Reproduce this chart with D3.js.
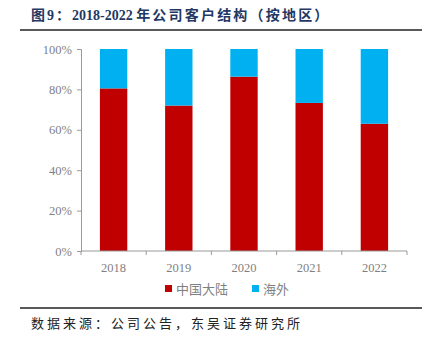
<!DOCTYPE html>
<html><head><meta charset="utf-8">
<script src="https://cdn.jsdelivr.net/npm/d3@7"></script>
<style>body{margin:0;background:#fff;} svg{display:block;}</style>
</head><body>
<script>
const years = ["2018","2019","2020","2021","2022"];
const mainland = [0.805, 0.72, 0.863, 0.733, 0.63];
const overseas = [0.195, 0.28, 0.137, 0.267, 0.37];
const seriesNames = ["中国大陆","海外"];
const seriesColors = ["#C00000","#00B0F0"];
const yTicks = [0,0.2,0.4,0.6,0.8,1.0];

const W=430,H=342;
const svg=d3.select("body").append("svg").attr("width",W).attr("height",H);
const cjk="'Noto Sans CJK SC', sans-serif";
const serif="'Liberation Serif','DejaVu Serif',serif";

const title=svg.append("text").attr("x",31).attr("y",20).attr("font-family",serif+","+cjk)
  .attr("font-weight","bold").attr("font-size",14).attr("fill","#1F3864");
[["图9：",2],["2018-2022 ",0],["年公司客户结构（按地区）",2.2]].forEach(([t,ls])=>{
  title.append("tspan").attr("letter-spacing",ls).text(t);
});
svg.append("line").attr("x1",20).attr("x2",422).attr("y1",30).attr("y2",30)
  .attr("stroke","#222").attr("stroke-width",1.5);

const x=d3.scaleBand().domain(years).range([81,407]).paddingInner(0.58).paddingOuter(0.29);
const y=d3.scaleLinear().domain([0,1]).range([251,49]);

const data=years.map((yr,i)=>({year:yr,mainland:mainland[i],overseas:overseas[i]}));
const stack=d3.stack().keys(["mainland","overseas"])(data);
svg.selectAll("g.s").data(stack).join("g").attr("fill",(d,i)=>seriesColors[i])
  .selectAll("rect").data(d=>d).join("rect")
  .attr("x",d=>x(d.data.year)).attr("width",x.bandwidth())
  .attr("y",d=>y(d[1])).attr("height",d=>y(d[0])-y(d[1]));

const gy=svg.append("g").attr("transform","translate(81,0)")
  .call(d3.axisLeft(y).tickValues(yTicks).tickFormat(d3.format(".0%")).tickSize(4).tickPadding(5));
gy.select(".domain").attr("stroke","#999");
gy.selectAll(".tick line").attr("stroke","#999");
gy.selectAll("text").attr("font-family",serif).attr("font-size",12.5).attr("fill","#7f7f7f");

const gx=svg.append("g").attr("transform","translate(0,251)");
gx.append("line").attr("x1",81).attr("x2",407).attr("stroke","#999");
const bounds=[81].concat(years.map(yy=>x(yy)+x.bandwidth()/2+x.step()/2));
gx.selectAll("line.t").data(bounds).join("line").attr("class","t")
  .attr("x1",d=>d).attr("x2",d=>d).attr("y1",0).attr("y2",4).attr("stroke","#999");
gx.selectAll("text").data(years).join("text")
  .attr("x",d=>x(d)+x.bandwidth()/2).attr("y",21).attr("text-anchor","middle")
  .attr("font-family",serif).attr("font-size",12.5).attr("fill","#7f7f7f").text(d=>d);

const lg=svg.append("g");
const lx=[165,252];
seriesNames.forEach((n,i)=>{
  lg.append("rect").attr("x",lx[i]).attr("y",285).attr("width",7).attr("height",7).attr("fill",seriesColors[i]);
  lg.append("text").attr("x",lx[i]+11).attr("y",294).attr("font-family",cjk).attr("font-size",13)
    .attr("fill","#7f7f7f").text(n);
});

svg.append("line").attr("x1",20).attr("x2",422).attr("y1",308).attr("y2",308)
  .attr("stroke","#222").attr("stroke-width",1.5);
svg.append("text").attr("x",31).attr("y",328).attr("font-family",cjk).attr("font-size",13)
  .attr("letter-spacing",3).attr("fill","#222").text("数据来源：公司公告，东吴证券研究所");
</script>
</body></html>
